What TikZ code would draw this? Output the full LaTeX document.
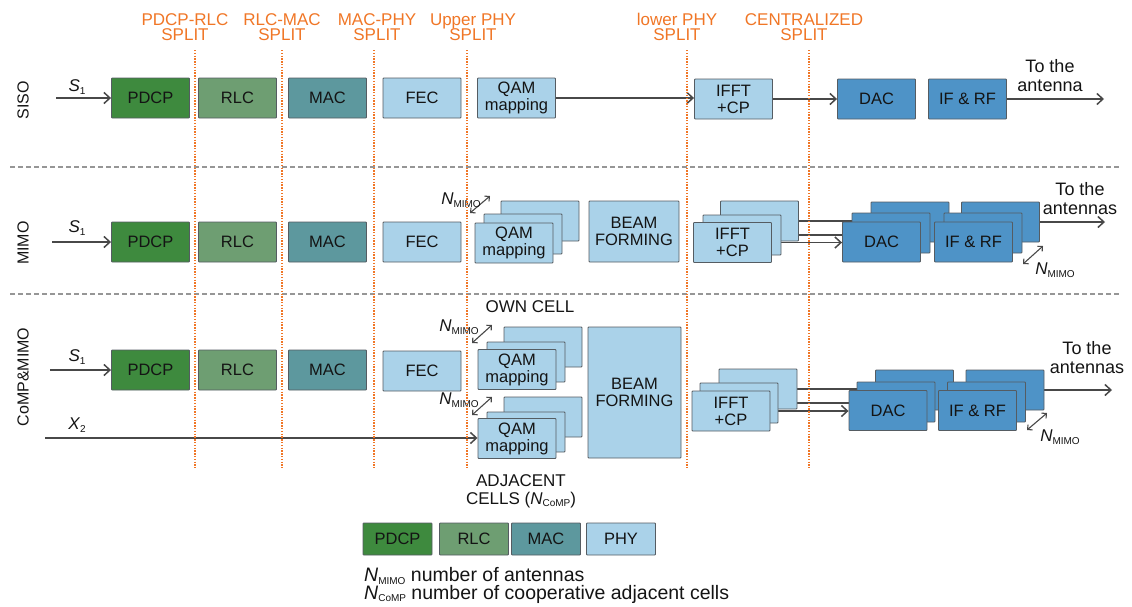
\documentclass[tikz,border=0pt]{standalone}
\usepackage{fontspec}
\setmainfont{Liberation Sans}
\usetikzlibrary{arrows.meta,backgrounds}
\definecolor{pdcpgreen}{RGB}{62,138,62}
\definecolor{rlcgreen}{RGB}{110,158,114}
\definecolor{macteal}{RGB}{93,152,158}
\definecolor{phyblue}{RGB}{170,210,233}
\definecolor{rfblue}{RGB}{78,147,199}
\definecolor{boxedge}{RGB}{85,92,98}
\definecolor{linegray}{RGB}{72,72,72}
\definecolor{splitorange}{RGB}{240,118,38}
\definecolor{sepgray}{RGB}{150,150,150}
\definecolor{textgray}{RGB}{20,20,20}
\newcommand\fsz[2]{\fontsize{#1}{#2}\selectfont}
\newcommand\subtag[1]{\raisebox{-2.5pt}{\fsz{10}{10}#1}}
\newcommand\nmimo{\textit{N}\subtag{MIMO}}
\newcommand\ncomp{\textit{N}\subtag{CoMP}}
\begin{document}
\begin{tikzpicture}[x=1pt,y=-1pt,
  blk/.style={draw=boxedge, line width=0.9pt, rounded corners=0.8pt, minimum width=78pt, minimum height=40pt, inner sep=0pt, align=center, text=textgray, font=\fsz{16.5}{17}},
  pdcpblk/.style={blk, fill=pdcpgreen},
  rlcblk/.style={blk, fill=rlcgreen},
  macblk/.style={blk, fill=macteal},
  phyblk/.style={blk, fill=phyblue},
  rfblk/.style={blk, fill=rfblue},
  keyblk/.style={minimum width=69pt, minimum height=32pt},
  flow/.style={draw=linegray, line width=1.5pt, -{Straight Barb[length=6pt,width=11pt]}},
  feed/.style={draw=linegray, line width=1.5pt},
  nspan/.style={draw=linegray, line width=1.1pt, {Straight Barb[length=3.5pt,width=7pt]}-{Straight Barb[length=3.5pt,width=7pt]}},
  splitline/.style={draw=splitorange, line width=2.8pt, dash pattern=on 1.4pt off 1.4pt},
  rowsep/.style={draw=sepgray, line width=1.1pt, dash pattern=on 5pt off 3pt},
  splittxt/.style={text=splitorange, align=center, inner sep=0pt, font=\fsz{17}{15.5}},
  rowtxt/.style={text=textgray, rotate=90, inner sep=0pt, font=\fsz{16}{16}},
  lbl/.style={text=textgray, inner sep=0pt, align=center, font=\fsz{17}{18}},
  ntxt/.style={text=textgray, inner sep=0pt, font=\fsz{17}{17}},
]
\useasboundingbox (0,0) rectangle (1132,606);

% split headers
\node[splittxt] (hpdcprlc) at (185,27) {PDCP-RLC\\SPLIT};
\node[splittxt] (hrlcmac) at (282,27) {RLC-MAC\\SPLIT};
\node[splittxt] (hmacphy) at (377,27) {MAC-PHY\\SPLIT};
\node[splittxt] (hupper) at (473,27) {Upper PHY\\SPLIT};
\node[splittxt] (hlower) at (677,27) {lower PHY\\SPLIT};
\node[splittxt] (hcentral) at (804,27) {CENTRALIZED\\SPLIT};

% row separators
\draw[rowsep] (10,167) -- (1120,167);
\draw[rowsep] (10,294) -- (1120,294);

% SISO
\node[rowtxt] (siso) at (23,100) {SISO};
\coordinate (sin1) at (56,98);
\node[ntxt] (s1a) at (77,87) {\textit{S}\subtag{1}};
\node[pdcpblk] (pdcp1) at (150.5,98) {PDCP};
\node[rlcblk] (rlc1) at (237.5,98) {RLC};
\node[macblk] (mac1) at (327.5,98) {MAC};
\node[phyblk] (fec1) at (422,98) {FEC};
\node[phyblk] (qam1) at (516.5,98) {QAM\\mapping};
\node[phyblk] (ifft1) at (733.5,99) {IFFT\\+CP};
\node[rfblk] (dac1) at (876.5,99) {DAC};
\node[rfblk] (ifrf1) at (967.5,99) {IF \& RF};
\coordinate (out1) at (1104,99);
\node[lbl, font=\fsz{18}{19}] (ant1) at (1050,76) {To the\\antenna};

% MIMO
\node[rowtxt] (mimo) at (23,243) {MIMO};
\coordinate (sin2) at (52,242);
\node[ntxt] (s1b) at (77,228) {\textit{S}\subtag{1}};
\node[pdcpblk] (pdcp2) at (150.5,242) {PDCP};
\node[rlcblk] (rlc2) at (237.5,242) {RLC};
\node[macblk] (mac2) at (327.5,242) {MAC};
\node[phyblk] (fec2) at (422,242) {FEC};
\node[phyblk] (qam2c) at (540,221) {};
\node[phyblk] (qam2b) at (523,234) {};
\node[phyblk] (qam2a) at (514,243) {QAM\\mapping};
\node[phyblk, minimum width=90pt, minimum height=61pt] (beam2) at (634,231.5) {BEAM\\FORMING};
\node[phyblk] (ifft2c) at (759.5,221) {};
\node[phyblk] (ifft2b) at (742,235) {};
\node[phyblk] (ifft2a) at (732.5,242.5) {IFFT\\+CP};
\node[rfblk] (dac2c) at (910,222) {};
\node[rfblk] (dac2b) at (891,233) {};
\node[rfblk] (dac2a) at (881.5,242) {DAC};
\node[rfblk] (ifrf2c) at (1000.5,222) {};
\node[rfblk] (ifrf2b) at (983,233) {};
\node[rfblk] (ifrf2a) at (973.5,242) {IF \& RF};
\coordinate (out2) at (1105,222);
\node[lbl, font=\fsz{18}{19}] (ant2) at (1080,199) {To the\\antennas};
\node[ntxt] (nm2l) at (461,200) {\nmimo};
\coordinate (nm2ls) at (470,213);
\coordinate (nm2le) at (490,196);
\node[ntxt] (nm2r) at (1055,270) {\nmimo};
\coordinate (nm2rs) at (1023,264);
\coordinate (nm2re) at (1043,246);

% CoMP & MIMO
\node[rowtxt] (comp) at (23,377) {CoMP\&MIMO};
\coordinate (sin3) at (50,370);
\node[ntxt] (s1c) at (77,357) {\textit{S}\subtag{1}};
\coordinate (xin3) at (45,438);
\node[ntxt] (x2c) at (77,425) {\textit{X}\subtag{2}};
\node[pdcpblk] (pdcp3) at (150.5,370) {PDCP};
\node[rlcblk] (rlc3) at (237.5,370) {RLC};
\node[macblk] (mac3) at (327.5,370) {MAC};
\node[phyblk] (fec3) at (422,371) {FEC};
\node[lbl] (owncell) at (530,307) {OWN CELL};
\node[phyblk] (qamown3c) at (543,347) {};
\node[phyblk] (qamown3b) at (526,362) {};
\node[phyblk] (qamown3a) at (517,369.5) {QAM\\mapping};
\node[phyblk] (qamadj3c) at (543,417) {};
\node[phyblk] (qamadj3b) at (526,432) {};
\node[phyblk] (qamadj3a) at (517,438.5) {QAM\\mapping};
\node[lbl] (adjcell) at (521,491) {ADJACENT\\CELLS (\ncomp)};
\node[phyblk, minimum width=93pt, minimum height=131pt] (beam3) at (634.5,392.5) {BEAM\\FORMING};
\node[phyblk] (ifft3c) at (758,389) {};
\node[phyblk] (ifft3b) at (739,403) {};
\node[phyblk] (ifft3a) at (731,411) {IFFT\\+CP};
\node[rfblk] (dac3c) at (914.5,390) {};
\node[rfblk] (dac3b) at (896,402) {};
\node[rfblk] (dac3a) at (888,410.5) {DAC};
\node[rfblk] (ifrf3c) at (1005,390) {};
\node[rfblk] (ifrf3b) at (986.5,402) {};
\node[rfblk] (ifrf3a) at (977.5,410.5) {IF \& RF};
\coordinate (out3) at (1112,390);
\node[lbl, font=\fsz{18}{19}] (ant3) at (1087,358) {To the\\antennas};
\node[ntxt] (nm3o) at (459,327) {\nmimo};
\coordinate (nm3os) at (472,343);
\coordinate (nm3oe) at (492,325);
\node[ntxt] (nm3a) at (459,400) {\nmimo};
\coordinate (nm3as) at (472,415);
\coordinate (nm3ae) at (492,397);
\node[ntxt] (nm3r) at (1060,437) {\nmimo};
\coordinate (nm3rs) at (1027,430);
\coordinate (nm3re) at (1047,413);

% legend
\node[pdcpblk, keyblk] (keypdcp) at (397.5,539) {PDCP};
\node[rlcblk, keyblk] (keyrlc) at (474,539) {RLC};
\node[macblk, keyblk] (keymac) at (546,539) {MAC};
\node[phyblk, keyblk] (keyphy) at (621,539) {PHY};
\node[ntxt, anchor=west, font=\fsz{19.5}{19}] (keynmimo) at (364,576) {\nmimo{} number of antennas};
\node[ntxt, anchor=west, font=\fsz{19.5}{19}] (keyncomp) at (364,594) {\ncomp{} number of cooperative adjacent cells};

\begin{scope}[on background layer]
\draw[flow] (sin1) -- (pdcp1);
\draw[flow] (qam1.east) -- (qam1.east -| ifft1.west);
\draw[flow] (ifft1.east) -- (ifft1.east -| dac1.west);
\draw[flow] (ifrf1.east) -- (out1);
\draw[flow] (sin2) -- (pdcp2);
\draw[feed] (ifft2c.east) -- (ifft2c.east -| dac2c.west);
\draw[feed] (ifft2b.east) -- (ifft2b.east -| dac2b.west);
\draw[flow] (ifft2a.east) -- (ifft2a.east -| dac2a.west);
\draw[flow] (ifrf2c.east) -- (ifrf2c.east -| out2);
\draw[nspan] (nm2ls) -- (nm2le);
\draw[nspan] (nm2rs) -- (nm2re);
\draw[flow] (sin3) -- (pdcp3);
\draw[flow] (xin3) -- (xin3 -| qamadj3a.west);
\draw[feed] (ifft3c.east) -- (ifft3c.east -| dac3c.west);
\draw[feed] (ifft3b.east) -- (ifft3b.east -| dac3b.west);
\draw[flow] (ifft3a.east) -- (ifft3a.east -| dac3a.west);
\draw[flow] (ifrf3c.east) -- (ifrf3c.east -| out3);
\draw[nspan] (nm3os) -- (nm3oe);
\draw[nspan] (nm3as) -- (nm3ae);
\draw[nspan] (nm3rs) -- (nm3re);
\end{scope}

% split lines
\draw[splitline] (195,50) -- (195,468);
\draw[splitline] (282,50) -- (282,468);
\draw[splitline] (374,50) -- (374,468);
\draw[splitline] (467,50) -- (467,468);
\draw[splitline] (687,50) -- (687,468);
\draw[splitline] (809,50) -- (809,468);
\end{tikzpicture}
\end{document}
